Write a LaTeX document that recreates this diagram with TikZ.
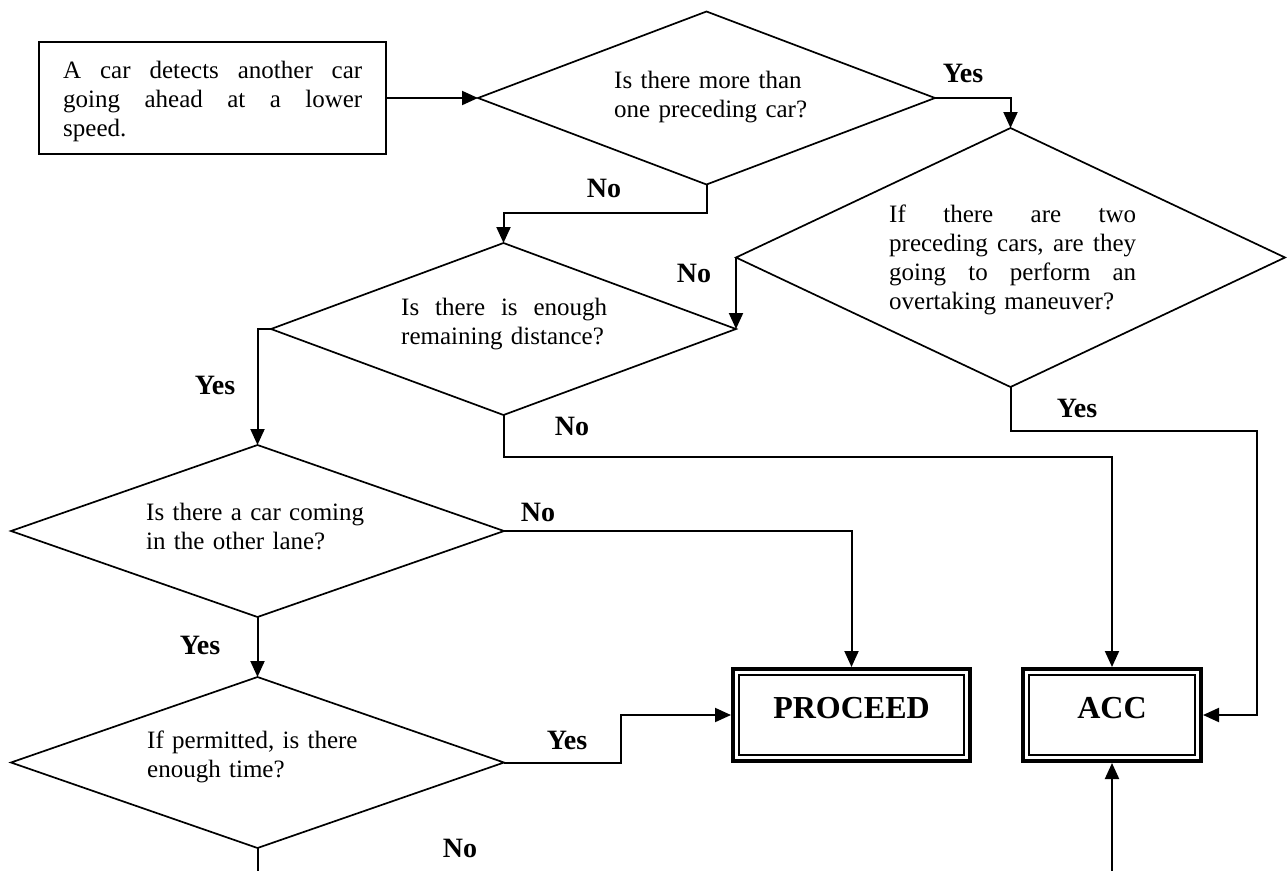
\documentclass[tikz,border=0pt]{standalone}
\usepackage{fontspec}
\setmainfont{Liberation Serif}
\usetikzlibrary{shapes.geometric,arrows.meta}
\newcommand{\jline}[2]{\leavevmode\hbox to #1{#2}}
\begin{document}
\begin{tikzpicture}[x=1pt,y=-1pt,
  conn/.style={line width=2pt, -{Triangle[length=16pt,width=14pt]}},
  plain/.style={line width=2pt},
  decision/.style={shape=diamond, draw, line width=1.7pt, inner sep=0pt, outer sep=0pt},
  body/.style={anchor=base west, inner sep=0pt, align=left, font=\fontsize{25}{29}\selectfont},
  lbl/.style={inner sep=0pt, font=\fontsize{28}{32}\selectfont\bfseries},
  endbox/.style={draw, line width=4pt, inner sep=0pt, minimum height=92pt,
    font=\fontsize{32}{36}\selectfont\bfseries, text height=22pt, text depth=16pt},
  innerframe/.style={line width=2.4pt},
]
\useasboundingbox (0,0) rectangle (1287,870);

% shapes
\node[draw, line width=1.8pt, minimum width=347.2pt, minimum height=112.2pt, inner sep=0pt] (start) at (212.5,98) {};
\node[decision, minimum width=457pt, minimum height=173pt] (d1) at (706.5,98) {};
\node[decision, minimum width=549pt, minimum height=259pt] (d2) at (1010.5,257.5) {};
\node[decision, minimum width=465pt, minimum height=172pt] (d3) at (503.5,329) {};
\node[decision, minimum width=493pt, minimum height=172pt] (d4) at (257.5,531) {};
\node[decision, minimum width=493pt, minimum height=171pt] (d5) at (257.5,762.5) {};
\node[endbox, minimum width=237pt] (proceed) at (851.5,715) {PROCEED};
\node[endbox, minimum width=178pt] (acc) at (1112,715) {ACC};
\draw[innerframe] ([shift={(8,8)}]proceed.north west) rectangle ([shift={(-8,-8)}]proceed.south east);
\draw[innerframe] ([shift={(8,8)}]acc.north west) rectangle ([shift={(-8,-8)}]acc.south east);

% texts
\node[body, text width=299pt] (startt) at (63,78)
  {\jline{299pt}{A \hfill car \hfill detects \hfill another \hfill car}\\\jline{299pt}{going \hfill ahead \hfill at \hfill a \hfill lower}\\speed.};
\node[body, text width=220pt] (d1t) at (614,88) {Is there more than\\one preceding car?};
\node[body, text width=247pt] (d2t) at (889,222)
  {\jline{247pt}{If \hfill there \hfill are \hfill two}\\\jline{247pt}{preceding \hfill cars, \hfill are \hfill they}\\\jline{247pt}{going \hfill to \hfill perform \hfill an}\\overtaking maneuver?};
\node[body, text width=206pt] (d3t) at (401,315)
  {\jline{206pt}{Is \hfill there \hfill is \hfill enough}\\remaining distance?};
\node[body, text width=240pt] (d4t) at (146,520) {Is there a car coming\\in the other lane?};
\node[body, text width=240pt] (d5t) at (147,748) {If permitted, is there\\enough time?};

% connectors
\coordinate (accr) at (1257,431);
\coordinate (d5out) at (257.5,872);
\coordinate (accin) at (1112,872);
\draw[conn] (start.east) -- (d1.west);
\draw[conn] (d1.east) -| (d2.north);
\draw[conn] (d1.south) -- ++(0,28.5) -| (d3.north);
\draw[conn] (d2.west) -- (d3.east);
\draw[conn] (d2.south) |- (accr) |- (acc.east);
\draw[conn] (d3.west) -| (d4.north);
\draw[conn] (d3.south) -- ++(0,42) -| (acc.north);
\draw[conn] (d4.east) -| (proceed.north);
\draw[conn] (d4.south) -- (d5.north);
\draw[conn] (d5.east) -- ++(117,0) |- (proceed.west);
\draw[plain] (d5.south) -- (d5out);
\draw[conn] (accin) -- (acc.south);

% labels
\node[lbl] (ly1) at (963,73) {Yes};
\node[lbl] (ln1) at (604,188) {No};
\node[lbl] (ln2) at (694,273) {No};
\node[lbl] (ly2) at (1077,408) {Yes};
\node[lbl] (ly3) at (215,385) {Yes};
\node[lbl] (ln3) at (572,426) {No};
\node[lbl] (ln4) at (538,512) {No};
\node[lbl] (ly4) at (200,645) {Yes};
\node[lbl] (ly5) at (567,740) {Yes};
\node[lbl] (ln5) at (460,848) {No};
\end{tikzpicture}
\end{document}
